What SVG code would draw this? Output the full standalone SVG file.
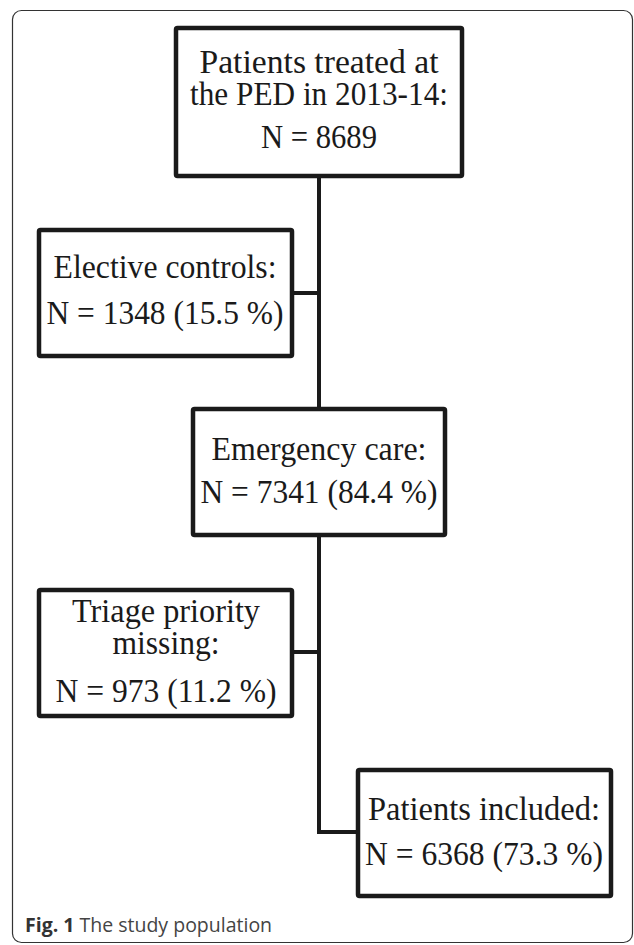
<svg xmlns="http://www.w3.org/2000/svg" width="634" height="945" viewBox="0 0 634 945">
<style>
.box{fill:#fff;stroke:#1a1a1a;stroke-width:4.5;stroke-linejoin:round}
.t{font-family:"Liberation Serif","Times New Roman",serif;font-size:33px;fill:#1a1a1a;text-anchor:middle}
.c{fill:none;stroke:#1a1a1a;stroke-width:4;stroke-linejoin:miter}
.cap{font-family:"Open Sans","Liberation Sans",sans-serif;font-size:19.5px;fill:#444}
</style>
<rect x="12.5" y="10.5" width="620" height="932" rx="9" fill="#fff" stroke="#333" stroke-width="1.2"/>
<g id="connectors">
<path class="c" d="M319 177 V407"/>
<path class="c" d="M294 293 H319"/>
<path class="c" d="M319 537 V832 H356"/>
<path class="c" d="M294 652 H319"/>
</g>
<g id="n1">
<rect class="box" x="176" y="28" width="286" height="148" rx="1.5"/>
<text class="t" x="319" y="73" textLength="239" lengthAdjust="spacingAndGlyphs">Patients treated at</text>
<text class="t" x="319" y="105" textLength="258" lengthAdjust="spacingAndGlyphs">the PED in 2013-14:</text>
<text class="t" x="319" y="148" textLength="116" lengthAdjust="spacingAndGlyphs">N = 8689</text>
</g>
<g id="n2">
<rect class="box" x="39" y="230" width="253" height="126" rx="1.5"/>
<text class="t" x="165" y="278" textLength="223" lengthAdjust="spacingAndGlyphs">Elective controls:</text>
<text class="t" x="165" y="324" textLength="237" lengthAdjust="spacingAndGlyphs">N = 1348 (15.5 %)</text>
</g>
<g id="n3">
<rect class="box" x="193" y="409" width="252" height="126" rx="1.5"/>
<text class="t" x="319" y="460" textLength="215" lengthAdjust="spacingAndGlyphs">Emergency care:</text>
<text class="t" x="319" y="503" textLength="237" lengthAdjust="spacingAndGlyphs">N = 7341 (84.4 %)</text>
</g>
<g id="n4">
<rect class="box" x="39" y="590" width="253" height="126" rx="1.5"/>
<text class="t" x="166" y="622" textLength="188" lengthAdjust="spacingAndGlyphs">Triage priority</text>
<text class="t" x="166" y="654" textLength="107" lengthAdjust="spacingAndGlyphs">missing:</text>
<text class="t" x="166" y="702" textLength="221" lengthAdjust="spacingAndGlyphs">N = 973 (11.2 %)</text>
</g>
<g id="n5">
<rect class="box" x="358" y="770" width="253" height="126" rx="1.5"/>
<text class="t" x="484" y="820" textLength="232" lengthAdjust="spacingAndGlyphs">Patients included:</text>
<text class="t" x="484" y="865" textLength="238" lengthAdjust="spacingAndGlyphs">N = 6368 (73.3 %)</text>
</g>
<text class="cap" x="25" y="932"><tspan font-weight="bold" fill="#333">Fig. 1</tspan> The study population</text>
</svg>
